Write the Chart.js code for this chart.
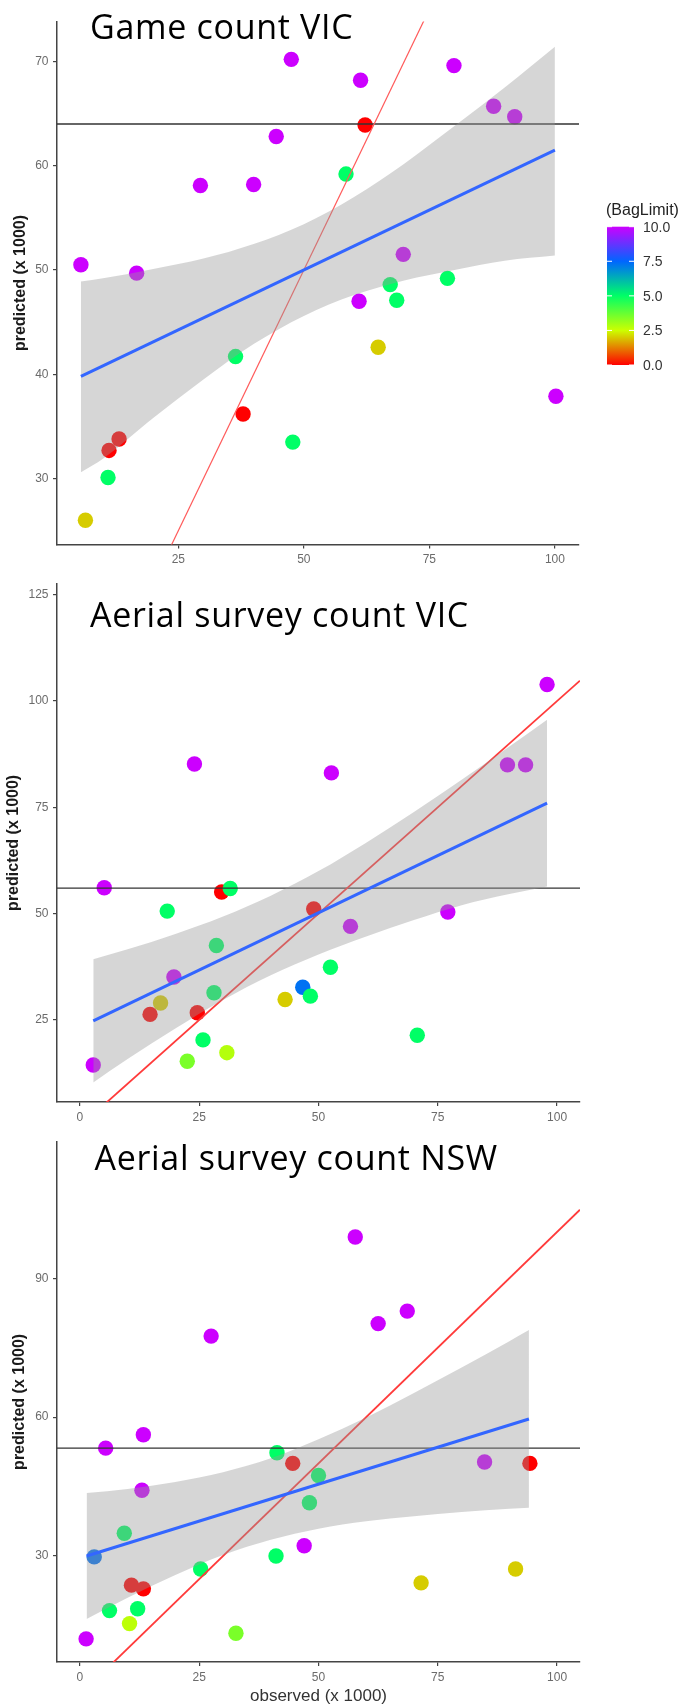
<!DOCTYPE html>
<html lang="en">
<head>
<meta charset="utf-8">
<title>observed vs predicted</title>
<script src="https://cdn.jsdelivr.net/npm/chart.js@4.4.1/dist/chart.umd.min.js"></script>
<style>
  html, body { margin: 0; padding: 0; background: #ffffff; }
  #page { position: relative; width: 689px; height: 1707px; overflow: hidden; }
  #page canvas { position: absolute; left: 0; display: block; }
</style>
</head>
<body>
<div id="page">
  <canvas id="gameVic" width="689" height="572" style="top:0px"></canvas>
  <canvas id="aerialVic" width="689" height="558" style="top:572px"></canvas>
  <canvas id="aerialNsw" width="689" height="577" style="top:1130px"></canvas>
</div>
<script>
// BagLimit colour scale (rainbow(5))
const BAG_STOPS = [0, 2.5, 5, 7.5, 10];
const BAG_COLOURS = ['#FF0000', '#CCFF00', '#00FF66', '#0066FF', '#CC00FF'];
const BAG_TICKS = [0, 2.5, 5, 7.5, 10];

// 1:1 reference line
const REF_INTERCEPT = 0;
const REF_SLOPE = 1;

// ---- Game count VIC ----
const gameObs  = [47.5, 79.9, 61.3, 87.8, 92.0, 62.2, 44.5, 58.4, 29.4, 40.0, 5.6, 16.7, 69.8, 78.6, 67.2, 68.5, 61.0, 64.8, 36.4, 100.2, 37.9, 47.8, 13.2, 11.2, 11.0, 6.5];
const gamePred = [70.2, 69.6, 68.2, 65.7, 64.7, 63.9, 62.8, 59.2, 58.1, 58.2, 50.5, 49.7, 51.5, 49.2, 48.6, 47.1, 47.0, 42.6, 41.7, 37.9, 36.2, 33.5, 33.8, 32.7, 30.1, 26.0];
const gameBag  = [10, 10, 10, 10, 10, 0, 10, 5, 10, 10, 10, 10, 10, 5, 5, 5, 10, 2, 5, 10, 0, 5, 0, 0, 5, 2];
const gameBandX  = [5.6, 10, 20, 30, 40, 50, 60, 70, 80, 90, 100];
const gameBandLo = [30.6, 31.9, 35.8, 39.5, 42.9, 45.6, 47.6, 49.0, 50.0, 50.9, 51.4];
const gameBandHi = [48.9, 49.2, 50.1, 51.1, 52.5, 54.4, 57.0, 60.2, 63.8, 67.5, 71.4];
const gameFitX = [5.6, 100];
const gameFitY = [39.8, 61.5];
const gameMean = 64.0;
const gameXTicks = [25, 50, 75, 100];
const gameYTicks = [30, 40, 50, 60, 70];

// ---- Aerial survey count VIC ----
const vicObs  = [97.9, 24.0, 52.7, 89.6, 93.4, 5.1, 29.7, 31.5, 18.3, 49.0, 77.1, 56.7, 28.6, 19.7, 52.5, 28.1, 46.7, 48.3, 43.0, 16.9, 14.7, 24.6, 25.8, 70.7, 30.8, 22.5, 2.8];
const vicPred = [103.9, 85.2, 83.1, 85.0, 85.0, 56.1, 55.1, 55.9, 50.6, 51.1, 50.4, 47.0, 42.5, 35.1, 37.4, 31.4, 32.7, 30.6, 29.8, 29.0, 26.3, 26.7, 20.3, 21.4, 17.3, 15.3, 14.4];
const vicBag  = [10, 10, 10, 10, 10, 10, 0, 5, 5, 0, 10, 10, 5, 10, 5, 5, 7.3, 5, 2, 2, 0, 0, 5, 5, 2.8, 3.5, 10];
const vicBandX  = [2.8, 10, 20, 30, 40, 50, 60, 70, 80, 90, 97.9];
const vicBandLo = [10.3, 15.8, 23.0, 29.7, 35.5, 40.4, 44.6, 48.5, 52.0, 54.6, 56.4];
const vicBandHi = [39.3, 41.6, 45.2, 49.3, 54.2, 60.0, 66.7, 73.9, 81.5, 89.3, 95.6];
const vicFitX = [2.8, 97.9];
const vicFitY = [24.8, 76.0];
const vicMean = 56.0;
const vicXTicks = [0, 25, 50, 75, 100];
const vicYTicks = [25, 50, 75, 100, 125];

// ---- Aerial survey count NSW ----
const nswObs  = [57.7, 68.6, 62.5, 27.5, 13.3, 5.4, 41.3, 44.6, 84.8, 94.3, 50.0, 13.0, 48.1, 9.3, 47.0, 3.0, 41.1, 25.3, 91.3, 71.5, 10.8, 13.3, 6.2, 12.1, 10.4, 32.7, 1.3];
const nswPred = [98.9, 82.9, 80.2, 77.5, 56.2, 53.3, 52.3, 50.0, 50.3, 50.0, 47.4, 44.2, 41.5, 34.9, 32.2, 29.8, 30.0, 27.2, 27.2, 24.2, 23.7, 22.9, 18.2, 18.6, 15.4, 13.3, 12.1];
const nswBag  = [10, 10, 10, 10, 10, 10, 5, 0, 10, 0, 5, 10, 5, 5, 10, 7.3, 5, 5, 2, 2, 0, 0, 5, 5, 2.7, 3.5, 10];
const nswBandX  = [1.4, 10, 20, 30, 40, 50, 60, 70, 80, 90, 94.1];
const nswBandLo = [16.4, 21.0, 25.9, 30.2, 33.5, 35.9, 37.5, 38.6, 39.5, 40.2, 40.4];
const nswBandHi = [43.6, 44.5, 46.0, 48.1, 51.1, 55.2, 59.9, 65.2, 70.7, 76.4, 78.8];
const nswFitX = [1.4, 94.1];
const nswFitY = [30.0, 59.6];
const nswMean = 53.3;
const nswXTicks = [0, 25, 50, 75, 100];
const nswYTicks = [30, 60, 90];

document.addEventListener('DOMContentLoaded', () => {
  const tickFont = { family: "'Liberation Sans', Arial, sans-serif", size: 12 };

  function hexRgb(h) {
    return [1, 3, 5].map(i => parseInt(h.slice(i, i + 2), 16));
  }

  // linear interpolation between rainbow stops
  function bagColour(v) {
    let i = 0;
    while (i < BAG_STOPS.length - 2 && v > BAG_STOPS[i + 1]) i++;
    const t = (v - BAG_STOPS[i]) / (BAG_STOPS[i + 1] - BAG_STOPS[i]);
    const a = hexRgb(BAG_COLOURS[i]);
    const b = hexRgb(BAG_COLOURS[i + 1]);
    return 'rgb(' + a.map((c, k) => Math.round(c + (b[k] - c) * t)).join(',') + ')';
  }

  const panelTitlePlugin = {
    id: 'panelTitle',
    afterDraw(chart, args, opts) {
      if (!opts.text) return;
      const c = chart.ctx;
      c.save();
      c.font = opts.size + "px 'Open Sans', sans-serif";
      if ('letterSpacing' in c) c.letterSpacing = opts.spacing + 'px';
      c.fillStyle = '#000000';
      c.textBaseline = 'alphabetic';
      c.fillText(opts.text, opts.x, opts.y);
      c.restore();
    }
  };

  // colourbar legend (only the first panel has one)
  const bagLegendPlugin = {
    id: 'bagLegend',
    afterDraw(chart, args, opts) {
      if (!opts.show) return;
      const c = chart.ctx;
      const { x, y, w, h } = opts;
      c.save();
      c.fillStyle = '#222222';
      c.font = "16px 'Liberation Sans', Arial, sans-serif";
      c.textBaseline = 'middle';
      c.fillText('(BagLimit)', x - 1, y - 16);

      const grad = c.createLinearGradient(0, y + h, 0, y);
      BAG_STOPS.forEach((s, i) => grad.addColorStop(s / 10, BAG_COLOURS[i]));
      c.fillStyle = grad;
      c.fillRect(x, y, w, h);

      c.strokeStyle = '#ffffff';
      c.lineWidth = 1;
      c.fillStyle = '#333333';
      c.font = "14px 'Liberation Sans', Arial, sans-serif";
      BAG_TICKS.forEach(v => {
        const ty = y + h - (v / 10) * h;
        c.beginPath();
        c.moveTo(x, ty); c.lineTo(x + 5, ty);
        c.moveTo(x + w - 5, ty); c.lineTo(x + w, ty);
        c.stroke();
        c.fillText(v.toFixed(1), x + w + 9, ty + 1);
      });
      c.restore();
    }
  };

  function makePanel(id, p) {
    const [xMin, xMax] = p.xRange;
    const datasets = [
      {
        data: p.obs.map((x, i) => ({ x, y: p.pred[i] })),
        pointBackgroundColor: p.bag.map(bagColour),
        pointBorderWidth: 0,
        pointRadius: 7.7,
        order: 5
      },
      {
        data: [xMin, xMax].map(x => ({ x, y: REF_INTERCEPT + REF_SLOPE * x })),
        showLine: true, borderColor: p.refColour, borderWidth: p.refWidth, pointRadius: 0, order: 4
      },
      {
        data: [xMin, xMax].map(x => ({ x, y: p.mean })),
        showLine: true, borderColor: '#333333', borderWidth: 1.4, pointRadius: 0, order: 4
      },
      {
        data: p.bandX.map((x, i) => ({ x, y: p.bandLo[i] })),
        showLine: true, borderColor: 'rgba(0,0,0,0)', borderWidth: 0, pointRadius: 0,
        cubicInterpolationMode: 'monotone', fill: false, order: 3
      },
      {
        data: p.bandX.map((x, i) => ({ x, y: p.bandHi[i] })),
        showLine: true, borderColor: 'rgba(0,0,0,0)', borderWidth: 0, pointRadius: 0,
        cubicInterpolationMode: 'monotone', fill: '-1',
        backgroundColor: 'rgba(153,153,153,0.4)', order: 3
      },
      {
        data: p.fitX.map((x, i) => ({ x, y: p.fitY[i] })),
        showLine: true, borderColor: '#3366FF', borderWidth: 3, pointRadius: 0, order: 1
      }
    ];

    return new Chart(document.getElementById(id), {
      type: 'scatter',
      data: { datasets },
      options: {
        responsive: false,
        animation: false,
        events: [],
        layout: { padding: { top: p.padTop, right: p.padRight, bottom: 0, left: 0 } },
        plugins: {
          legend: { display: false },
          tooltip: { enabled: false },
          panelTitle: p.title,
          bagLegend: p.legend || { show: false }
        },
        scales: {
          x: {
            type: 'linear', min: xMin, max: xMax,
            afterBuildTicks: s => { s.ticks = p.xTicks.map(v => ({ value: v })); },
            afterFit: s => { s.height = p.xAxisHeight; },
            grid: { drawOnChartArea: false, drawTicks: true, tickLength: 4, color: '#444444', lineWidth: 1.2 },
            border: { display: true, color: '#444444', width: 1.5 },
            ticks: { color: '#6b6b6b', font: tickFont, padding: 4, maxRotation: 0, autoSkip: false },
            title: {
              display: !!p.xTitle, text: p.xTitle || '', color: '#333333',
              font: { family: "'Liberation Sans', Arial, sans-serif", size: 17 },
              padding: { top: 0, bottom: 0 }
            }
          },
          y: {
            type: 'linear', min: p.yRange[0], max: p.yRange[1],
            afterBuildTicks: s => { s.ticks = p.yTicks.map(v => ({ value: v })); },
            afterFit: s => { s.width = 57; },
            grid: { drawOnChartArea: false, drawTicks: true, tickLength: 4, color: '#444444', lineWidth: 1.2 },
            border: { display: true, color: '#444444', width: 1.5 },
            ticks: { color: '#6b6b6b', font: tickFont, padding: 4.5, autoSkip: false },
            title: {
              display: true, text: 'predicted (x 1000)', color: '#1a1a1a',
              font: { family: "'Liberation Sans', Arial, sans-serif", size: 16, weight: 'bold' },
              padding: { top: p.yTitlePad, bottom: 0 }
            }
          }
        }
      },
      plugins: [panelTitlePlugin, bagLegendPlugin]
    });
  }

  makePanel('gameVic', {
    obs: gameObs, pred: gamePred, bag: gameBag,
    bandX: gameBandX, bandLo: gameBandLo, bandHi: gameBandHi,
    fitX: gameFitX, fitY: gameFitY, mean: gameMean,
    xTicks: gameXTicks, yTicks: gameYTicks,
    xRange: [0.84, 104.8], yRange: [23.67, 73.84],
    refColour: '#ff5a5a', refWidth: 1.2,
    padTop: 21.4, padRight: 110, xAxisHeight: 27.4, yTitlePad: 11.4,
    title: { text: 'Game count VIC', x: 90, y: 38.5, size: 34, spacing: 0.7 },
    legend: { show: true, x: 607, y: 226.7, w: 27, h: 138.3 }
  });

  makePanel('aerialVic', {
    obs: vicObs, pred: vicPred, bag: vicBag,
    bandX: vicBandX, bandLo: vicBandLo, bandHi: vicBandHi,
    fitX: vicFitX, fitY: vicFitY, mean: vicMean,
    xTicks: vicXTicks, yTicks: vicYTicks,
    xRange: [-4.8, 104.8], yRange: [5.7, 127.6],
    refColour: '#ff3a3a', refWidth: 1.8,
    padTop: 6, padRight: 109, xAxisHeight: 28, yTitlePad: 4.4,
    title: { text: 'Aerial survey count VIC', x: 90, y: 55, size: 34, spacing: 0.7 }
  });

  makePanel('aerialNsw', {
    obs: nswObs, pred: nswPred, bag: nswBag,
    bandX: nswBandX, bandLo: nswBandLo, bandHi: nswBandHi,
    fitX: nswFitX, fitY: nswFitY, mean: nswMean,
    xTicks: nswXTicks, yTicks: nswYTicks,
    xRange: [-4.8, 104.8], yRange: [7.1, 119.5],
    refColour: '#ff3a3a', refWidth: 1.8,
    padTop: 8, padRight: 109, xAxisHeight: 45, yTitlePad: 10.4,
    xTitle: 'observed (x 1000)',
    title: { text: 'Aerial survey count NSW', x: 94.5, y: 40, size: 34, spacing: 0.7 }
  });
});
</script>
</body>
</html>
